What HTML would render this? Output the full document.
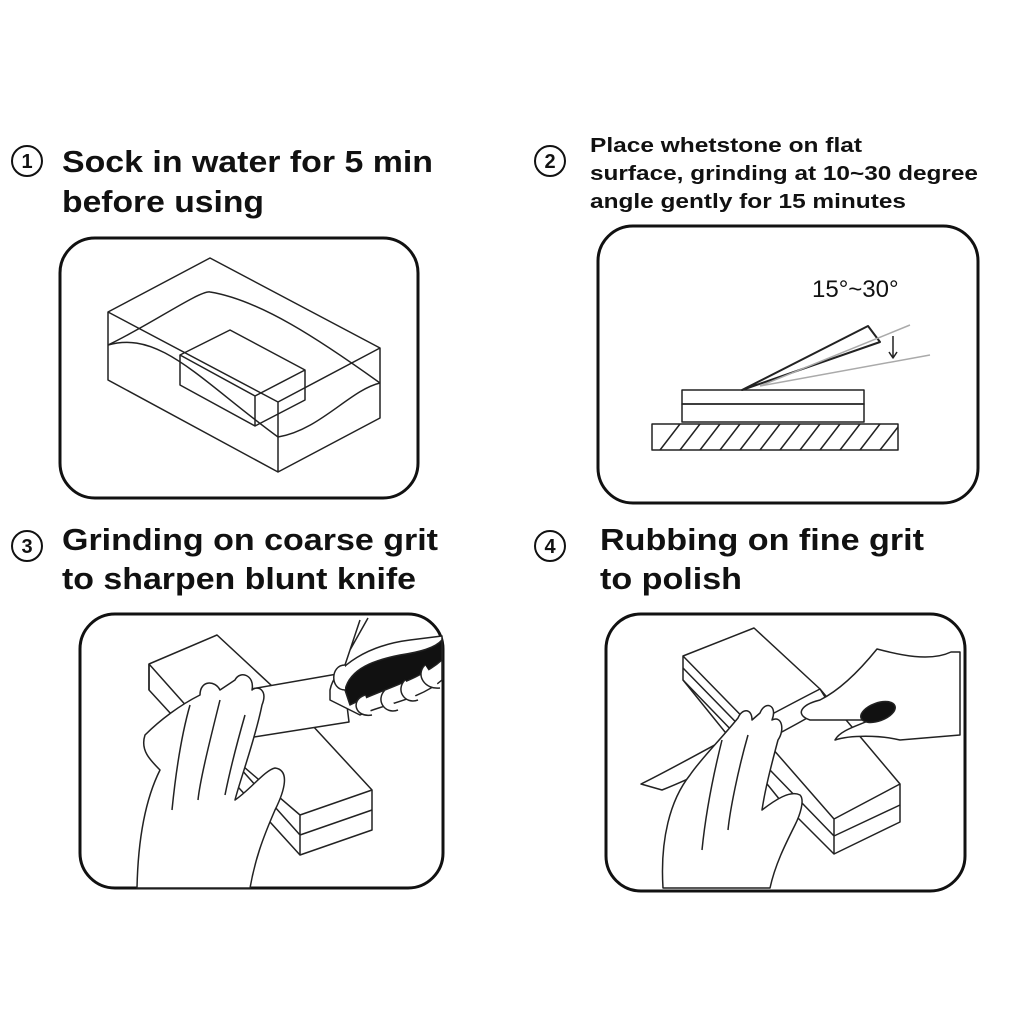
<!DOCTYPE html>
<html><head><style>body{margin:0;background:#fff}svg{display:block}</style></head>
<body>
<svg width="1024" height="1024" viewBox="0 0 1024 1024" xmlns="http://www.w3.org/2000/svg" font-family="Liberation Sans, sans-serif" font-weight="bold" fill="#111">
<g font-size="31">
<text x="62" y="172" textLength="371" lengthAdjust="spacingAndGlyphs">Sock in water for 5 min</text>
<text x="62" y="212" textLength="202" lengthAdjust="spacingAndGlyphs">before using</text>
<text x="62" y="550" textLength="376" lengthAdjust="spacingAndGlyphs">Grinding on coarse grit</text>
<text x="62" y="589" textLength="354" lengthAdjust="spacingAndGlyphs">to sharpen blunt knife</text>
<text x="600" y="550" textLength="324" lengthAdjust="spacingAndGlyphs">Rubbing on fine grit</text>
<text x="600" y="589" textLength="142" lengthAdjust="spacingAndGlyphs">to polish</text>
</g>
<g font-size="20">
<text x="590" y="152" textLength="272" lengthAdjust="spacingAndGlyphs">Place whetstone on flat</text>
<text x="590" y="180" textLength="388" lengthAdjust="spacingAndGlyphs">surface, grinding at 10~30 degree</text>
<text x="590" y="208" textLength="316" lengthAdjust="spacingAndGlyphs">angle gently for 15 minutes</text>
</g>
<g fill="none" stroke="#111" stroke-width="2">
<circle cx="27" cy="161" r="15"/><circle cx="550" cy="161" r="15"/>
<circle cx="27" cy="546" r="15"/><circle cx="550" cy="546" r="15"/>
</g>
<g font-size="20" text-anchor="middle">
<text x="27" y="168">1</text><text x="550" y="168">2</text><text x="27" y="553">3</text><text x="550" y="553">4</text>
</g>
<g fill="none" stroke="#111" stroke-width="3">
<rect x="60" y="238" width="358" height="260" rx="35"/>
<rect x="598" y="226" width="380" height="277" rx="35"/>
<rect x="80" y="614" width="363" height="274" rx="35"/>
<rect x="606" y="614" width="359" height="277" rx="35"/>
</g>
<g fill="none" stroke="#222" stroke-width="1.5" stroke-linejoin="round">
<path d="M108 312 L210 258 L380 348 L380 418 L278 472 L108 380 Z M108 312 L278 402 L380 348 M278 402 L278 472"/>
<path d="M108 345 C160 330 200 380 278 437 C320 430 350 390 380 383 M108 345 C150 325 200 290 210 292 C260 300 320 340 380 383"/>
<path d="M180 355 L230 330 L305 370 L305 400 L255 426 L180 385 Z M180 355 L255 396 L305 370 M255 396 L255 426"/>
<rect x="682" y="390" width="182" height="14"/><rect x="682" y="404" width="182" height="18"/>
<path d="M652 424 H898 V450 H652 Z"/>
<path d="M660 450 L680 424 M680 450 L700 424 M700 450 L720 424 M720 450 L740 424 M740 450 L760 424 M760 450 L780 424 M780 450 L800 424 M800 450 L820 424 M820 450 L840 424 M840 450 L860 424 M860 450 L880 424 M880 450 L898 427"/>
<path d="M742 390 L868 326 L880 342 Z" stroke-width="2"/>
<path d="M760 386 L910 325 M760 386 L930 355" stroke="#aaa"/>
<path d="M893 336 V358 M889 352 L893 358 L897 352"/>
</g>
<!-- panel3 -->
<g fill="#fff" stroke="#222" stroke-width="1.5" stroke-linejoin="round">
<path d="M149 664 L217 635 L300 712 L372 790 L372 830 L300 855 L250 800 L149 690 Z"/>
<path d="M149 664 L149 690 M149 664 L230 755 L300 815 L372 790 M300 815 V855 M240 768 L300 835 L372 810" fill="none"/>
<path d="M251 689 L343 673 L349 722 L254 737 Z"/>
<path d="M330 690 C335 665 370 645 410 640 L442 636 L442 680 C420 700 380 705 360 715 L330 700 Z"/>
<path d="M345 690 C350 668 375 660 400 655 C420 652 435 648 442 640 L442 660 C420 680 380 690 350 705 Z" fill="#111"/>
<path d="M345 665 C330 665 330 690 345 690 M365 695 C350 700 355 718 372 715 M385 690 C375 700 385 715 398 710 M405 680 C395 690 405 705 418 700 M425 665 C415 675 425 690 440 688" />
<path d="M345 665 L360 620 M350 650 L368 618" fill="none"/>
<path d="M137 888 C138 840 145 800 160 770 C150 760 140 750 145 735 C160 720 180 705 200 695 C200 680 215 680 220 690 L235 680 C240 670 255 675 252 690 C258 685 268 690 262 705 C255 740 240 780 235 800 C250 790 265 770 275 768 C290 770 285 790 275 810 C262 840 255 860 250 888 Z"/>
<path d="M190 705 C180 740 175 780 172 810 M220 700 C210 740 200 780 198 800 M245 715 C235 750 228 780 225 795" fill="none"/>
</g>
<!-- panel4 -->
<g fill="#fff" stroke="#222" stroke-width="1.5" stroke-linejoin="round">
<path d="M683 656 L754 628 L820 689 L900 784 L900 822 L834 854 L780 800 L683 680 Z"/>
<path d="M683 656 L765 740 L834 819 L900 784 M834 819 V854 M683 668 L765 752 M683 680 L765 765 M770 770 L834 836 L900 805" fill="none"/>
<path d="M641 784 C680 765 740 730 820 689 L830 705 C770 740 700 775 662 790 Z"/>
<path d="M877 649 C900 655 930 662 951 652 L960 652 L960 735 L900 740 C880 735 850 735 835 740 C840 730 860 725 870 720 L810 720 C795 715 800 705 820 700 C840 690 860 670 877 649 Z"/>
<ellipse cx="878" cy="712" rx="18" ry="9" transform="rotate(-20 878 712)" fill="#111"/>
<path d="M663 888 C660 840 670 800 690 775 C700 760 720 740 738 718 C742 708 752 708 752 720 L760 713 C765 700 778 705 772 720 C782 715 785 730 778 740 C770 770 765 790 762 810 C775 800 790 790 800 795 C805 800 800 815 795 825 C785 845 775 865 770 888 Z"/>
<path d="M722 740 C712 780 705 820 702 850 M748 735 C738 770 730 810 728 830" fill="none"/>
</g>
<text x="812" y="297" font-size="24" font-weight="normal">15°~30°</text>
</svg>
</body></html>
